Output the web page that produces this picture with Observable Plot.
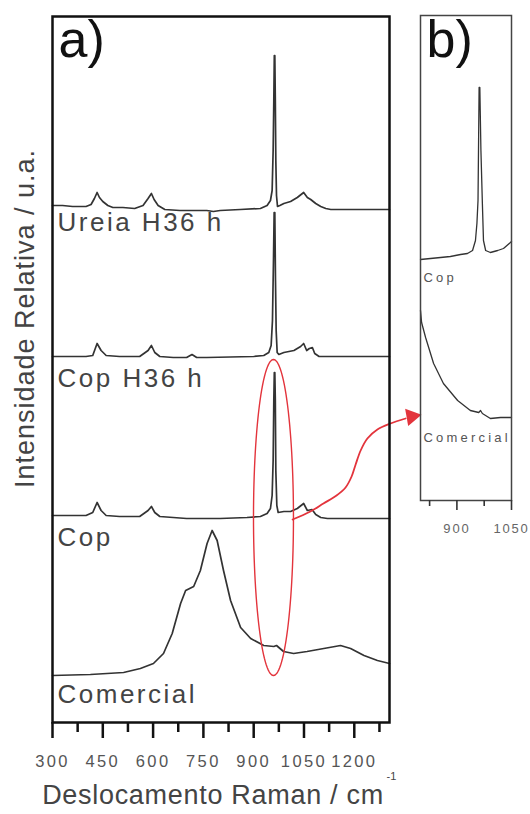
<!DOCTYPE html>
<html><head><meta charset="utf-8">
<script src="https://cdn.jsdelivr.net/npm/d3@7"></script>
<script src="https://cdn.jsdelivr.net/npm/@observablehq/plot@0.6"></script>
<style>
html,body{margin:0;padding:0;background:#fff;}
#wrap{position:relative;width:530px;height:814px;overflow:hidden;background:#fff;}
#wrap svg{position:absolute;left:0;top:0;}
</style></head><body><div id="wrap"></div>
<script>
const FONT = "'Liberation Sans', Arial, Helvetica, sans-serif";
const RED = "#e3343c";

// ---------- Panel a: stacked Raman spectra (relative intensity, arbitrary units) ----------
const ureiaX = [300,330,360,400,415,425,433,440,450,465,480,510,545,570,585,595,603,615,635,680,760,780,800,860,920,940,950,955,958,960,961.5,963,964.5,966,968,971,978,990,1010,1030,1049,1060,1070,1085,1100,1115,1130,1305];
const ureiaY = [517,517,516,516,518,524,530,525,521,517,515,515,514,517,524,529,523,517,513,512,512,511,512,513,514,517,522,532,572,622,667,667,622,562,527,516,517,519,521,525,530,525,523,519,516,514,513,513];

const copH36X = [300,400,420,433,445,460,500,560,585,595,605,620,660,700,716,730,760,900,930,945,952,956,959,961,963,965,967,970,975,990,1020,1040,1049,1058,1066,1075,1082,1095,1305];
const copH36Y = [366,366,367,379,372,367,366,366,372,377,370,366,365,365,368,365,365,366,367,370,377,402,462,510,510,442,392,370,368,370,372,376,379,372,374,375,369,366,366];

const copX = [300,400,420,433,445,460,500,560,585,595,605,620,700,800,880,920,940,950,955,958,960,961.5,963,964.5,966,969,973,990,1010,1030,1049,1060,1074,1085,1100,1120,1305];
const copY = [207,207,210,220,212,207,206,206,212,216,210,206,204,204,205,206,209,214,227,262,322,350,350,322,252,217,210,211,211,214,219,212,213,208,205,204,204];

const comX = [300,413,512,562,601,631,657,682,697,721,741,761,776,791,810,831,861,891,930,960,968,975,989,1019,1059,1109,1159,1189,1229,1269,1305];
const comY = [47,48,50,54,59,69,89,119,132,136,152,179,192,182,152,122,95,84,77,76,77,75,71,69,71,74,77,74,67,62,59];

const labelsA = ["Ureia H36 h","Cop H36 h","Cop","Comercial"];
const labelLevelA = [500,344,185,28];

const majorA = [300,450,600,750,900,1050,1200];
const minorA = [375,525,675,825,975,1125,1275];

// highlight ellipse around the 960 cm-1 band and connecting arrow (annotation, data units)
const ellipseCenter = [959, 205];
const ellipseRadius = [59.6, 158];
const arrowX = [1016,1069,1108,1147,1174,1192,1204,1219,1239,1269,1308,1353];
const arrowY = [203,211,219,227,235,246,258,272,284,293,299,304];
const arrowTip = [1371, 306];

// ---------- Panel b: zoom 800–1050 cm-1 ----------
const copBX = [800,855,882,910,929,943,951,955,958,961,963,966,970,973,979,992,1012,1028,1047,1050];
const copBY = [241,243,244,246,247,250,260,277,300,413,413,350,297,260,250,248,250,252,258,259];
const comBX = [800,803,814,836,863,902,937,960,965,970,992,1020,1047,1050];
const comBY = [190,178,163,137,117,100,90,88,90,87,82,83,83,83];
const labelsB = ["Cop","Comercial"];
const labelLevelB = [223,63];
const majorB = [900,1050];
const minorB = [825,975];

const rows = (xs, ys) => xs.map((x, i) => ({x, y: ys[i]}));

const ellipse = d3.range(0, 361, 3).map(t => ({
  x: ellipseCenter[0] + ellipseRadius[0] * Math.cos(t * Math.PI / 180),
  y: ellipseCenter[1] + ellipseRadius[1] * Math.sin(t * Math.PI / 180)
}));

const lineStyle = {x: "x", y: "y", stroke: "#333", strokeWidth: 1.7};

const plotA = Plot.plot({
  width: 530, height: 814,
  marginLeft: 52, marginRight: 141, marginTop: 16, marginBottom: 92,
  style: "background: transparent; font-family: " + FONT,
  x: {domain: [300, 1305]},
  y: {domain: [0, 706], axis: null},
  marks: [
    Plot.line(rows(ureiaX, ureiaY), lineStyle),
    Plot.line(rows(copH36X, copH36Y), lineStyle),
    Plot.line(rows(copX, copY), lineStyle),
    Plot.line(rows(comX, comY), lineStyle),
    Plot.line(ellipse, {x: "x", y: "y", stroke: RED, strokeWidth: 1.4}),
    Plot.line(rows(arrowX, arrowY), {x: "x", y: "y", stroke: RED, strokeWidth: 1.8, curve: "catmull-rom"}),
    Plot.dot([{x: arrowTip[0], y: arrowTip[1]}], {x: "x", y: "y", symbol: "triangle", r: 6.5, fill: RED, stroke: "none", rotate: 80}),
    Plot.frame({stroke: "#111", strokeWidth: 2.5}),
    Plot.axisX({ticks: majorA, tickSize: 16, tickPadding: 17, tickFormat: d => String(d), label: null,
      fontSize: 16, fontFamily: FONT, stroke: "#111", fill: "#555", strokeWidth: 2.5}),
    Plot.axisX({ticks: minorA, tickSize: 10, tickFormat: () => "", label: null, stroke: "#111", strokeWidth: 2.5}),
    Plot.text(labelsA.map((t, i) => ({t, y: labelLevelA[i]})), {x: () => 300, y: "y", text: "t", textAnchor: "start", dx: 5,
      fontSize: 26, fontFamily: FONT, fill: "#444"}),
    Plot.text(["a)"], {frameAnchor: "top-left", textAnchor: "start", lineAnchor: "top", dx: 6, dy: 4, fontSize: 52, fontFamily: FONT, fill: "#111"}),
    Plot.text(["Deslocamento Raman / cm"], {frameAnchor: "bottom", textAnchor: "middle", dx: -8, dy: 81, fontSize: 27, fontFamily: FONT, fill: "#444"}),
    Plot.text(["-1"], {frameAnchor: "bottom-right", textAnchor: "start", dx: -3, dy: 57, fontSize: 11, fontFamily: FONT, fill: "#444"}),
    Plot.text(["Intensidade Relativa / u.a."], {frameAnchor: "left", textAnchor: "middle", rotate: -90, dx: -27, dy: -51, fontSize: 27, fontFamily: FONT, fill: "#444"})
  ]
});

const lineStyleB = {x: "x", y: "y", stroke: "#333", strokeWidth: 1.3};
const plotB = Plot.plot({
  width: 530, height: 814,
  marginLeft: 420, marginRight: 19, marginTop: 15, marginBottom: 314,
  style: "background: transparent; font-family: " + FONT,
  x: {domain: [800, 1050]},
  y: {domain: [0, 485], axis: null},
  marks: [
    Plot.line(rows(copBX, copBY), lineStyleB),
    Plot.line(rows(comBX, comBY), lineStyleB),
    Plot.frame({stroke: "#444", strokeWidth: 1.5}),
    Plot.axisX({ticks: majorB, tickSize: 10, tickPadding: 13, tickFormat: d => String(d), label: null,
      fontSize: 13, fontFamily: FONT, stroke: "#333", fill: "#666", strokeWidth: 1.6}),
    Plot.axisX({ticks: minorB, tickSize: 6, tickFormat: () => "", label: null, stroke: "#333", strokeWidth: 1.6}),
    Plot.text(labelsB.map((t, i) => ({t, y: labelLevelB[i]})), {x: () => 800, y: "y", text: "t", textAnchor: "start", dx: 3,
      fontSize: 13, fontFamily: FONT, fill: "#555"}),
    Plot.text(["b)"], {frameAnchor: "top-left", textAnchor: "start", lineAnchor: "top", dx: 6, dy: 5, fontSize: 52, fontFamily: FONT, fill: "#111"})
  ]
});

const wrap = document.getElementById("wrap");
wrap.appendChild(plotA);
wrap.appendChild(plotB);

// letter spacing tweaks to match the reference typography
const spacing = {
  "Ureia H36 h": 2.5, "Cop H36 h": 2.5, "Comercial": 2.5, "Cop": 2.5,
  "Deslocamento Raman / cm": 0.7, "Intensidade Relativa / u.a.": 1
};
d3.select(plotA).selectAll("text").each(function() {
  const t = this.textContent;
  if (spacing[t] != null) d3.select(this).attr("letter-spacing", spacing[t]);
  if (/^\d+$/.test(t)) d3.select(this).attr("letter-spacing", 2.4).attr("fill", "#555").attr("font-size", 16.5);
});
d3.select(plotB).selectAll("text").each(function() {
  const t = this.textContent;
  if (t === "Cop" || t === "Comercial") d3.select(this).attr("letter-spacing", 3.2);
  if (/^\d+$/.test(t)) d3.select(this).attr("letter-spacing", 1.8).attr("fill", "#666").attr("font-size", 13);
});
</script></body></html>
